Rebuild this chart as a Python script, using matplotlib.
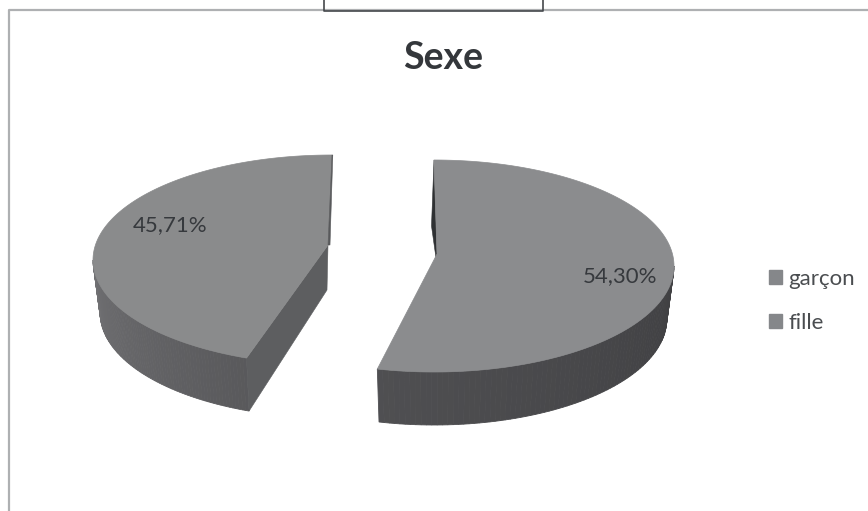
import matplotlib
matplotlib.use("Agg")
import matplotlib.pyplot as plt
from matplotlib.patches import Patch, Polygon
import numpy as np

plt.rcParams["font.family"] = ["Lato", "DejaVu Sans"]

# Share of pupils per sex
categories = ["garçon", "fille"]
shares = [54.30, 45.71]

W, H = 868, 511
DEPTH = 53
BOTTOM_SCALE = 0.97  # the base of the disc looks a little narrower


def point(cx, cy, a, b, theta):
    t = np.radians(theta)
    return cx + a * np.sin(t), cy - b * np.cos(t)


def mix(c1, c2, f):
    return tuple(c1[i] + (c2[i] - c1[i]) * f for i in range(3))


# Draw one slice of the fake 3D pie, angles run clockwise from the top
def draw_slice(ax, cx, cy, a, b, start, end, apex, top_col, side_from, side_to):
    # outer wall, only the part facing the viewer
    wall = np.linspace(max(start, 90), min(end, 270), 80)
    for i in range(len(wall) - 1):
        x1, y1 = point(cx, cy, a, b, wall[i])
        x2, y2 = point(cx, cy, a, b, wall[i + 1])
        x3, y3 = point(cx, cy + DEPTH, a * BOTTOM_SCALE, b, wall[i + 1])
        x4, y4 = point(cx, cy + DEPTH, a * BOTTOM_SCALE, b, wall[i])
        col = mix(side_from, side_to, i / (len(wall) - 2))
        ax.add_patch(Polygon([(x1, y1), (x2, y2), (x3, y3), (x4, y4)], closed=True,
                             facecolor=col, edgecolor=col, linewidth=0.6, zorder=2))
    # top face
    angles = np.linspace(start, end, 200)
    xs, ys = point(cx, cy, a, b, angles)
    verts = list(zip(xs, ys)) + [apex]
    ax.add_patch(Polygon(verts, closed=True, facecolor=top_col, edgecolor=top_col,
                         linewidth=0.5, zorder=4))


fig = plt.figure(figsize=(W / 100, H / 100), dpi=100)
ax = fig.add_axes([0, 0, 1, 1])
ax.set_xlim(0, W)
ax.set_ylim(H, 0)
ax.axis("off")

# Chart frame, only the left and top borders are visible
ax.plot([9, 9, W], [H, 10.5, 10.5], color="#aeb0b2", linewidth=1.6, zorder=1)
# Bottom of the text box sitting above the chart
ax.plot([323.5, 323.5, 543, 543], [0, 11, 11, 0], color="#45484c", linewidth=1.2, zorder=3)

ax.text(443, 58, "Sexe", ha="center", va="center", fontsize=27, fontweight="bold", color="#34373b")

total = sum(shares)
cut = shares[0] / total * 360

# Right slice
rx, ry = 434, 266
r_apex = (rx + 3, ry - 12)
r_end = cut - 1.8
draw_slice(ax, rx, ry, 240, 106, 0, r_end, r_apex, (0.545, 0.55, 0.555),
           (0.25, 0.25, 0.26), (0.31, 0.31, 0.32))
# thin inner wall seen next to the top corner
ax.add_patch(Polygon([point(rx, ry, 240, 106, 0), (rx - 2.5, ry - 40), (rx + 2, ry - 8), r_apex],
                     closed=True, facecolor="#2f3133", edgecolor="#2f3133", linewidth=0.4, zorder=3))

# Left slice
lx, ly = 332, 260
l_apex = (lx - 4, ly - 15)
l_start = cut + 5.5
draw_slice(ax, lx, ly, 239, 105, l_start, 360, l_apex, (0.54, 0.545, 0.55),
           (0.35, 0.35, 0.36), (0.44, 0.44, 0.45))
# cut face running from the centre down to the front corner
corner_top = point(lx, ly, 239, 105, l_start)
corner_bottom = point(lx, ly + DEPTH, 239 * BOTTOM_SCALE, 105, l_start)
ax.add_patch(Polygon([l_apex, (l_apex[0] - 1, l_apex[1] + 45), corner_bottom, corner_top],
                     closed=True, facecolor="#5d5e60", edgecolor="#5d5e60", linewidth=0.4, zorder=3))
ax.add_patch(Polygon([point(lx, ly, 239, 105, 360), (lx + 0.8, ly - 105), (l_apex[0] + 2, l_apex[1]), l_apex],
                     closed=True, facecolor="#58595b", edgecolor="#58595b", linewidth=0.4, zorder=5))

# Value labels, French decimal comma
for value, x, y in zip(shares, [620, 170], [276, 225]):
    ax.text(x, y, f"{value:.2f}%".replace(".", ","), ha="center", va="center",
            fontsize=16, color="#36393d", zorder=6)

handles = [Patch(facecolor="#85878a", edgecolor="#85878a", label=c) for c in categories]
ax.legend(handles=handles, loc="center left", bbox_to_anchor=(769 / W, 1 - 301 / H),
          bbox_transform=fig.transFigure, frameon=False, fontsize=16, labelcolor="#4a4d50",
          handlelength=0.58, handleheight=0.6, handletextpad=0.28, labelspacing=1.1,
          borderpad=0, borderaxespad=0)

fig.savefig("out.png", dpi=100, facecolor="white")
